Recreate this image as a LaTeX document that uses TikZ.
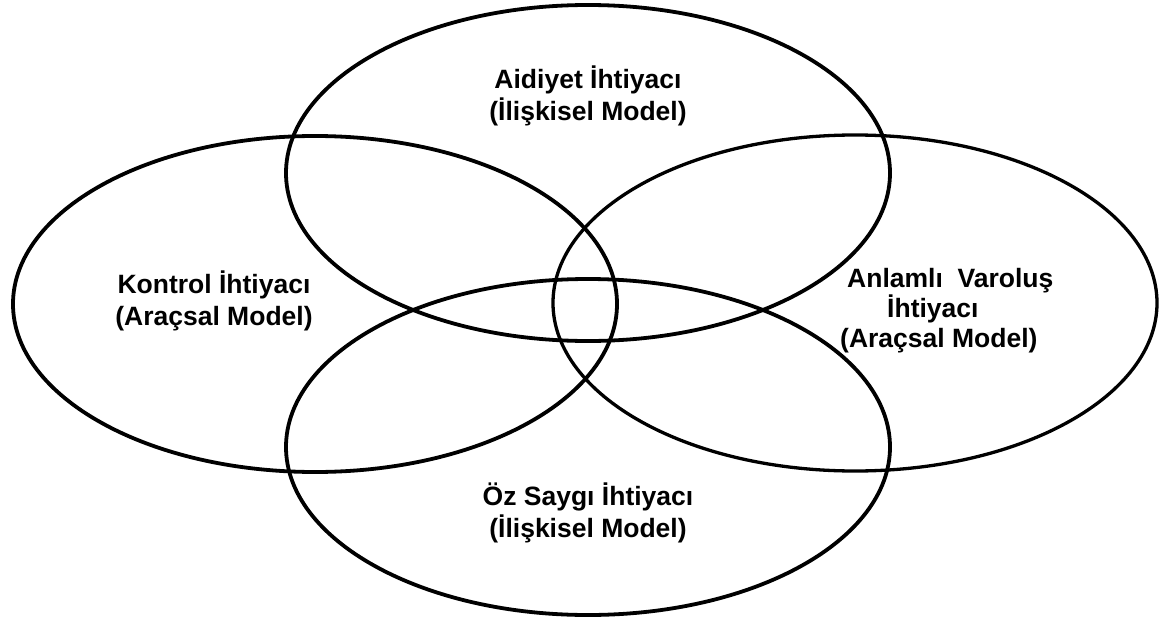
\documentclass[tikz,border=0pt]{standalone}
\usepackage{fontspec}
\setmainfont{Liberation Sans}
\usetikzlibrary{shapes.geometric}
\begin{document}
\begin{tikzpicture}[x=1pt,y=-1pt,
  ring/.style={draw, ellipse, inner sep=0pt, minimum width=604pt, minimum height=336pt},
  heavyring/.style={ring, line width=3.8pt},
  lightring/.style={ring, line width=3.3pt},
  lbl/.style={font=\bfseries\fontsize{26.5}{32}\selectfont, align=center, inner sep=0pt, anchor=base}]
\useasboundingbox (0,0) rectangle (1161,623);
\node[heavyring] (top) at (588,173) {};
\node[heavyring] (left) at (315,304) {};
\node[lightring] (right) at (855,303) {};
\node[heavyring] (bottom) at (588,447) {};
\node[lbl] (aidiyet) at (588,121) {Aidiyet İhtiyacı\\(İlişkisel Model)};
\node[lbl] (kontrol) at (214,325) {Kontrol İhtiyacı\\(Araçsal Model)};
\node[lbl] (ozsaygi) at (588,537) {Öz Saygı İhtiyacı\\(İlişkisel Model)};
\node[lbl, font=\bfseries\fontsize{26.5}{30}\selectfont, align=left, anchor=base west] (anlamli) at (840,347)
  {\hspace*{7pt}Anlamlı\ \ Varoluş\\\hspace*{47pt}İhtiyacı\\(Araçsal Model)};
\end{tikzpicture}
\end{document}
